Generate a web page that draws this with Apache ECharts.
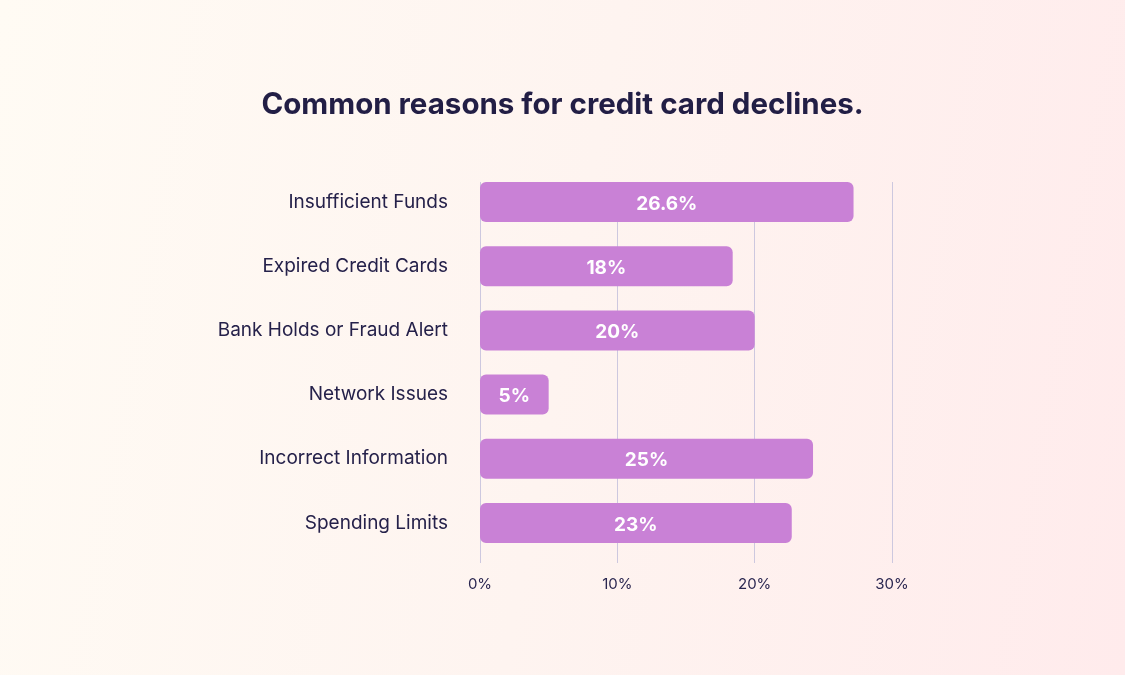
<!DOCTYPE html>
<html>
<head>
<meta charset="utf-8">
<script src="https://cdn.jsdelivr.net/npm/echarts@6/dist/echarts.min.js"></script>
<style>
html,body{margin:0;padding:0;}
#main{width:1125px;height:675px;background:linear-gradient(100deg,#fffbf4 0%,#fef4f0 50%,#ffebec 100%);}
</style>
</head>
<body>
<div id="main"></div>
<script>
var categories = ["Insufficient Funds","Expired Credit Cards","Bank Holds or Fraud Alert","Network Issues","Incorrect Information","Spending Limits"];
var barValues = [27.2, 18.4, 20.0, 5.0, 24.25, 22.7];
var barLabels = ["26.6%","18%","20%","5%","25%","23%"];
var tickValues = [0, 10, 20, 30];

var chart = echarts.init(document.getElementById('main'), null, {renderer:'canvas'});
var FONT = 'Inter, "Noto Sans", sans-serif';
chart.setOption({
  backgroundColor: 'transparent',
  title: {
    text: 'Common reasons for credit card declines.',
    left: 'center', top: 85,
    textStyle: {fontFamily: FONT, fontSize: 29.5, fontWeight: 700, color: '#221e45'}
  },
  grid: [
    {left: 480, right: 233, top: 182, bottom: 112},
    {left: 480, right: 233, top: 170, bottom: 120}
  ],
  xAxis: [
    {gridIndex: 0, type: 'value', min: tickValues[0], max: tickValues[tickValues.length-1], interval: 10,
     axisLine: {show: false}, axisTick: {show: false},
     splitLine: {show: true, lineStyle: {color: '#cdc8df', width: 1}},
     axisLabel: {formatter: '{value}%', margin: 14, fontFamily: FONT, fontSize: 15, color: '#2a2650'}},
    {gridIndex: 1, type: 'value', min: 0, max: 30, show: false}
  ],
  yAxis: [
    {gridIndex: 0, type: 'category', data: categories, show: false},
    {gridIndex: 1, type: 'category', data: categories, inverse: true,
     axisLine: {show: false}, axisTick: {show: false},
     axisLabel: {margin: 32, padding: [4, 0, 0, 0], fontFamily: FONT, fontSize: 19, color: '#25214a'}}
  ],
  series: [{
    type: 'bar', xAxisIndex: 1, yAxisIndex: 1,
    data: barValues, barWidth: 40,
    itemStyle: {color: '#c981d6', borderRadius: 6},
    label: {show: true, position: 'inside', offset: [0, 2],
      formatter: function(p){ return barLabels[p.dataIndex]; },
      fontFamily: FONT, fontSize: 19, fontWeight: 700, color: '#ffffff'}
  }]
});
</script>
</body>
</html>
